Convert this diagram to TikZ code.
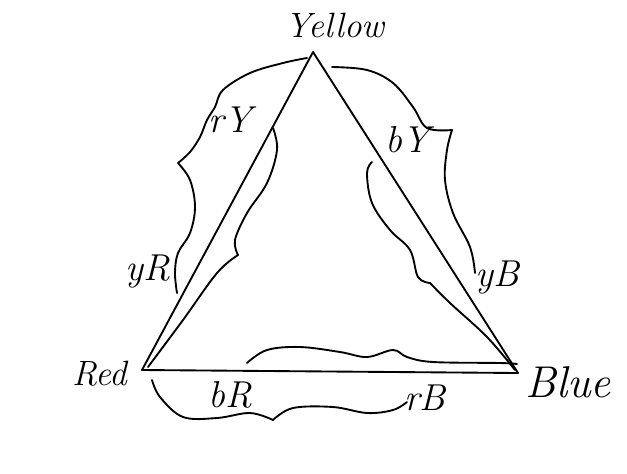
\documentclass[tikz,border=0pt]{standalone}
\usepackage{fontspec}
\usepackage{tikz}

\begin{document}
\begin{tikzpicture}[x=0.03cm,y=-0.03cm,
      pen/.style={line width=1.6pt,line cap=round,line join=round},
      blob/.style={pen,smooth,tension=0.6},
      vtx/.style={font=\fontsize{30}{32}\selectfont\itshape,inner sep=0pt},
      lbl/.style={font=\fontsize{32}{34}\selectfont\itshape,inner sep=0pt}
    ]
    \useasboundingbox (0,0) rectangle (627,473);
    \coordinate (yellow) at (313,52);
    \coordinate (red) at (142,370);
    \coordinate (blue) at (518,373);
    \node[vtx] (ylab) at (335,25) {Yellow};
    \node[vtx] (rlab) at (100,374) {Red};
    \node[vtx,font=\fontsize{38}{40}\selectfont\itshape] (blab) at (568,382) {Blue};
    % triangle
    \draw[pen] (yellow) -- (red) -- (blue) -- cycle;
    % Yellow--Red side
    \draw[pen] plot[blob] coordinates {(307,58) (283,63) (250,73) (223,90) (215,107) (207,120) (200,137) (190,152) (178,163)};
    \draw[pen] plot[blob] coordinates {(178,163) (190,180) (195,207) (190,233) (178,253) (175,273) (177,293)};
    \draw[pen] plot[blob] coordinates {(273,128) (277,150) (267,183) (247,213) (235,240) (238,255)};
    \draw[pen] plot[blob] coordinates {(238,255) (217,273) (183,320) (148,367)};
    % Yellow--Blue side
    \draw[pen] plot[blob] coordinates {(332,67) (367,70) (393,83) (413,107) (427,128) (452,130)};
    \draw[pen] plot[blob] coordinates {(452,130) (447,150) (445,180) (453,213) (470,247) (475,273)};
    \draw[pen] plot[blob] coordinates {(372,162) (367,173) (372,203) (390,230) (410,250) (418,277) (430,283)};
    \draw[pen] plot[blob] coordinates {(430,283) (450,303) (487,337) (515,370)};
    % Red--Blue side
    \draw[pen] plot[blob] coordinates {(247,363) (267,350) (300,347) (340,352) (367,357) (393,350) (407,357) (433,362) (500,363) (517,364)};
    \draw[pen] plot[blob] coordinates {(152,380) (160,397) (183,417) (217,418) (250,413) (273,420)};
    \draw[pen] plot[blob] coordinates {(273,420) (293,408) (333,407) (367,413) (393,410) (407,402)};
    % labels
    \node[lbl] (ry) at (230,120) {rY};
    \node[lbl] (yr) at (148,272) {yR};
    \node[lbl] (by) at (408,140) {bY};
    \node[lbl] (yb) at (497,278) {yB};
    \node[lbl] (br) at (230,395) {bR};
    \node[lbl] (rb) at (425,398) {rB};
  \end{tikzpicture}
\end{document}
